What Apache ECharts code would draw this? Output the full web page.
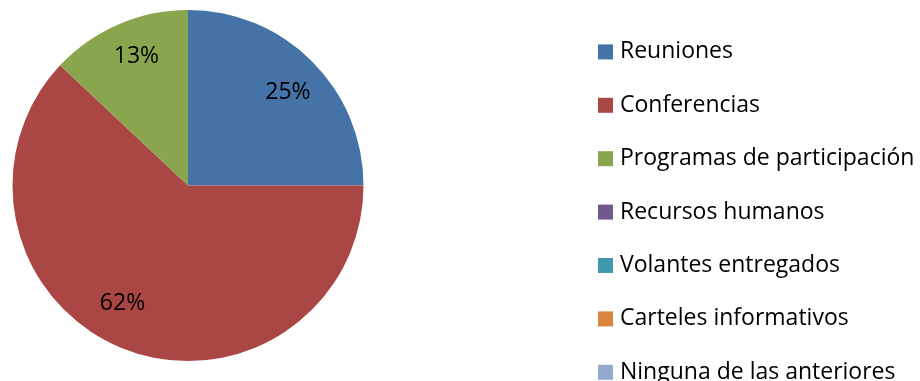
<!DOCTYPE html>
<html>
<head>
<meta charset="utf-8">
<script src="https://cdn.jsdelivr.net/npm/echarts@6/dist/echarts.min.js"></script>
<style>
  html, body { margin: 0; padding: 0; background: #ffffff; }
  #chart { width: 920px; height: 381px; }
</style>
</head>
<body>
<div id="chart"></div>
<script>
// Share of activities (percent)
const categories = [
  'Reuniones',
  'Conferencias',
  'Programas de participación',
  'Recursos humanos',
  'Volantes entregados',
  'Carteles informativos',
  'Ninguna de las anteriores'
];
const values = [25, 62, 13, 0, 0, 0, 0];

// Slice colours and small nudges for the percent labels
const colors = ['#4572A7', '#AA4643', '#89A54E', '#71588F', '#4198AF', '#DB843D', '#93A9CF'];
const labelNudge = [[1, 6], [-14, -12], [4, -1], [0, 0], [0, 0], [0, 0], [0, 0]];

const FONT = '"Open Sans", "DejaVu Sans", sans-serif';
const center = [188, 185.5];
const radius = 175.5;

const chart = echarts.init(document.getElementById('chart'), null, { renderer: 'canvas' });

const pieData = categories.map((name, i) => ({
  name: name,
  value: values[i],
  itemStyle: { color: colors[i] }
}));

// Label layer: a transparent, wider pie so "inside" labels sit near the rim
const labelData = categories.map((name, i) => ({
  name: name,
  value: values[i],
  itemStyle: { color: 'rgba(0,0,0,0)' },
  label: { show: values[i] > 0, offset: labelNudge[i] }
}));

chart.setOption({
  animation: false,
  backgroundColor: '#ffffff',
  color: colors,
  legend: {
    orient: 'vertical',
    left: 598,
    top: 40.4,
    height: 400,
    padding: 0,
    itemWidth: 15,
    itemHeight: 15,
    itemGap: 30.4,
    icon: 'rect',
    selectedMode: false,
    data: categories,
    textStyle: {
      fontFamily: FONT,
      fontSize: 23,
      color: '#000000',
      padding: [0, 0, 0, 2]
    }
  },
  series: [
    {
      type: 'pie',
      center: center,
      radius: [0, radius],
      startAngle: 90,
      clockwise: true,
      silent: true,
      label: { show: false },
      labelLine: { show: false },
      itemStyle: { borderWidth: 0 },
      data: pieData
    },
    {
      type: 'pie',
      center: center,
      radius: [0, radius * 1.56],
      startAngle: 90,
      clockwise: true,
      silent: true,
      labelLine: { show: false },
      label: {
        position: 'inside',
        formatter: (p) => p.value + '%',
        fontFamily: FONT,
        fontSize: 23,
        color: '#000000'
      },
      itemStyle: { borderWidth: 0 },
      data: labelData
    }
  ]
});
</script>
</body>
</html>
